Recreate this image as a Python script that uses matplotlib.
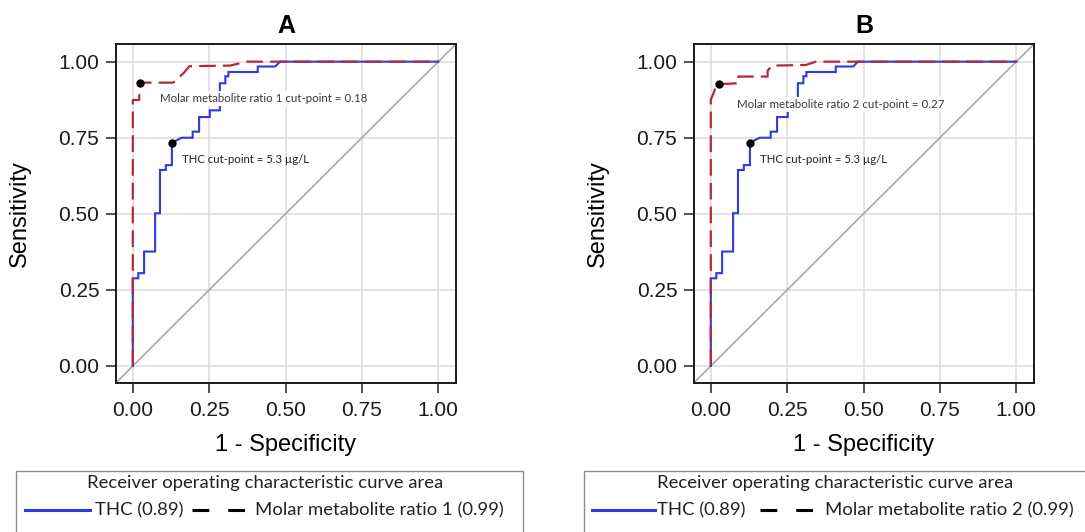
import matplotlib
matplotlib.use("Agg")
import matplotlib.pyplot as plt
from matplotlib.lines import Line2D
from matplotlib.patches import Rectangle

# ---------------- data ----------------
thc_fpr = [0, 0, 0.018, 0.018, 0.037, 0.037, 0.073, 0.073, 0.089, 0.089, 0.108, 0.108,
           0.128, 0.128, 0.160, 0.196, 0.196, 0.217, 0.217, 0.252, 0.252, 0.285, 0.285,
           0.303, 0.303, 0.313, 0.313, 0.409, 0.409, 0.466, 0.482, 1.0]
thc_tpr = [0, 0.288, 0.288, 0.305, 0.305, 0.376, 0.376, 0.502, 0.502, 0.644, 0.644, 0.660,
           0.660, 0.734, 0.750, 0.750, 0.770, 0.770, 0.818, 0.818, 0.840, 0.840, 0.929,
           0.929, 0.952, 0.952, 0.966, 0.966, 0.984, 0.984, 1.0, 1.0]

ratio1_fpr = [0, 0, 0.021, 0.021, 0.132, 0.166, 0.185, 0.318, 0.373, 1.0]
ratio1_tpr = [0, 0.874, 0.874, 0.931, 0.931, 0.962, 0.985, 0.987, 1.0, 1.0]

ratio2_fpr = [0, 0, 0.011, 0.016, 0.027, 0.090, 0.090, 0.186, 0.186, 0.200, 0.311, 0.344, 1.0]
ratio2_tpr = [0, 0.874, 0.902, 0.918, 0.926, 0.929, 0.951, 0.951, 0.970, 0.987, 0.989, 1.0, 1.0]

thc_cut = (0.128, 0.734)
ratio1_cut = (0.022, 0.931)
ratio2_cut = (0.027, 0.926)

panels = ["A", "B"]
ratio_names = ["Molar metabolite ratio 1", "Molar metabolite ratio 2"]
ratio_cut_values = ["0.18", "0.27"]
thc_auc = "0.89"
ratio_auc = "0.99"
ticks = [0.0, 0.25, 0.50, 0.75, 1.00]
tick_labels = ["0.00", "0.25", "0.50", "0.75", "1.00"]

# ---------------- style ----------------
W, H = 1085, 532
fig = plt.figure(figsize=(W / 100, H / 100), dpi=100)

def fx(x):
    return x / W

def fy(y):
    return 1 - y / H

BLUE = "#2f3ae0"
RED = "#b3293a"
GRID = "#dedede"
DIAG = "#a9a9a9"
SANS = ["Liberation Sans", "DejaVu Sans"]
SOFT = ["Lato", "DejaVu Sans"]

axes_left = [116, 694]
ax_w, ax_top, ax_bot = 340, 44, 383

ratio_fprs = [ratio1_fpr, ratio2_fpr]
ratio_tprs = [ratio1_tpr, ratio2_tpr]
ratio_cuts = [ratio1_cut, ratio2_cut]
ratio_text_pos = [(0.089, 0.878), (0.086, 0.860)]
thc_text_pos = (0.162, 0.678)

for i, name in enumerate(panels):
    ax = fig.add_axes([fx(axes_left[i]), fy(ax_bot), ax_w / W, (ax_bot - ax_top) / H])
    ax.set_xlim(-0.055, 1.058)
    ax.set_ylim(-0.056, 1.058)
    ax.set_xticks(ticks)
    ax.set_yticks(ticks)
    ax.set_xticklabels(tick_labels, family=SANS, fontsize=15, color="#1a1a1a")
    ax.set_yticklabels(tick_labels, family=SANS, fontsize=15, color="#1a1a1a")
    ax.tick_params(length=7, width=1.2, color="#333333")
    ax.tick_params(axis="x", pad=6)
    ax.tick_params(axis="y", pad=5)
    ax.grid(True, color=GRID, lw=1.2, zorder=0)
    ax.set_axisbelow(True)
    for s in ax.spines.values():
        s.set_color("#1a1a1a")
        s.set_linewidth(1.4)

    # diagonal reference
    ax.plot([-0.1, 1.1], [-0.1, 1.1], color=DIAG, lw=1.2, zorder=1)

    ax.plot(thc_fpr, thc_tpr, color=BLUE, lw=1.5, zorder=2, solid_joinstyle="miter")
    red, = ax.plot(ratio_fprs[i], ratio_tprs[i], color=RED, lw=1.6, zorder=3)
    red.set_dashes([7.5, 3.2])

    ax.plot(*thc_cut, "o", color="black", ms=5, zorder=5)
    ax.plot(*ratio_cuts[i], "o", color="black", ms=5, zorder=5)

    bb = dict(facecolor="white", edgecolor="none", pad=1.5)
    ax.text(ratio_text_pos[i][0], ratio_text_pos[i][1],
            f"{ratio_names[i]} cut-point = {ratio_cut_values[i]}",
            family=SOFT, fontsize=8.3, color="#3a3a3a", va="center", ha="left",
            bbox=bb, zorder=4)
    ax.text(thc_text_pos[0], thc_text_pos[1], "THC cut-point = 5.3 \u00b5g/L",
            family=SOFT, fontsize=8.2, color="#222222", va="center", ha="left",
            zorder=4)

    ax.set_title(name, fontsize=18, fontweight="bold", family=SANS, pad=8)
    ax.set_xlabel("1 - Specificity", family=SANS, fontsize=17, labelpad=10)
    ax.set_ylabel("Sensitivity", family=SANS, fontsize=17, labelpad=20)

# ---------------- legends (drawn in figure coords) ----------------
leg_left = [16, 584]
leg_right = [523, 1100]
title_cx = [265, 835]
blue_seg = [(25, 90), (592, 655)]
thc_txt_x = [95, 657]
dash_seg = [(192, 247), (760, 815)]
ratio_txt_x = [255, 825]
for i in range(2):
    rect = Rectangle((fx(leg_left[i]), fy(560)), (leg_right[i] - leg_left[i]) / W, (560 - 471) / H,
                     transform=fig.transFigure, facecolor="white", edgecolor="#8c8c8c",
                     lw=1.0, clip_on=False)
    fig.patches.append(rect)
    fig.text(fx(title_cx[i]), fy(483), "Receiver operating characteristic curve area",
             family=SOFT, fontsize=13.3, ha="center", va="center", color="#222222")
    fig.add_artist(Line2D([fx(blue_seg[i][0]), fx(blue_seg[i][1])], [fy(510), fy(510)],
                          transform=fig.transFigure, color=BLUE, lw=2.2))
    fig.text(fx(thc_txt_x[i]), fy(510), f"THC ({thc_auc})",
             family=SOFT, fontsize=13.3, ha="left", va="center", color="#222222")
    ln = Line2D([fx(dash_seg[i][0]), fx(dash_seg[i][1])], [fy(510), fy(510)],
                transform=fig.transFigure, color="black", lw=2.2)
    ln.set_dashes([5.5, 6.2])
    fig.add_artist(ln)
    fig.text(fx(ratio_txt_x[i]), fy(510), f"{ratio_names[i]} ({ratio_auc})",
             family=SOFT, fontsize=13.3, ha="left", va="center", color="#222222")

fig.savefig("out.png", dpi=100)
